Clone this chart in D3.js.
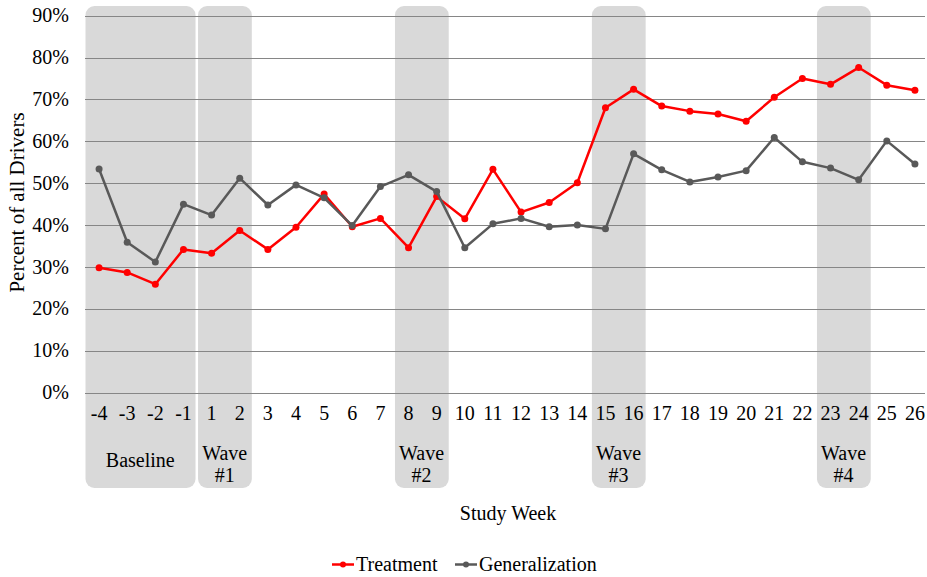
<!DOCTYPE html>
<html>
<head>
<meta charset="utf-8">
<script src="https://cdn.jsdelivr.net/npm/d3@7"></script>
<style>
  body { margin: 0; background: #fff; }
</style>
</head>
<body>
<div id="chart"></div>
<script>
var weeks = ["-4","-3","-2","-1","1","2","3","4","5","6","7","8","9","10","11","12","13",
             "14","15","16","17","18","19","20","21","22","23","24","25","26"];

var treatment = [29.8, 28.7, 25.9, 34.2, 33.3, 38.7, 34.2, 39.5, 47.4, 39.6, 41.6, 34.6, 46.8,
                 41.5, 53.3, 43.1, 45.4, 50.1, 68.0, 72.4, 68.4, 67.2, 66.5, 64.8, 70.5, 75.0,
                 73.6, 77.6, 73.4, 72.2];

var generalization = [53.4, 35.9, 31.2, 45.0, 42.4, 51.2, 44.8, 49.6, 46.5, 39.9, 49.2, 52.0, 48.0,
                      34.6, 40.3, 41.6, 39.6, 40.0, 39.1, 57.0, 53.2, 50.3, 51.5, 53.0, 60.9, 55.1,
                      53.6, 50.8, 60.1, 54.6];

var yTicks = [0, 10, 20, 30, 40, 50, 60, 70, 80, 90];

// shaded phases: first week, last week, label lines
var phaseStart = ["-4", "1", "8", "15", "23"];
var phaseEnd = ["-1", "2", "9", "16", "24"];
var phaseLabels = [["Baseline"], ["Wave", "#1"], ["Wave", "#2"], ["Wave", "#3"], ["Wave", "#4"]];

var seriesNames = ["Treatment", "Generalization"];
var seriesColors = ["#ff0000", "#595959"];

var width = 927, height = 577;
var plotLeft = 85, plotRight = 929, gridRight = 925, plotTop = 15.6, plotBottom = 392.7;

var svg = d3.select("#chart").append("svg")
    .attr("width", width)
    .attr("height", height)
    .style("font-family", "'Liberation Serif', 'Times New Roman', serif");

var x = d3.scaleBand().domain(weeks).range([plotLeft, plotRight]);
var y = d3.scaleLinear().domain([0, 90]).range([plotBottom, plotTop]);

// phase boxes
var phases = phaseStart.map(function(s, i) {
    return {start: s, end: phaseEnd[i], label: phaseLabels[i]};
});

var pg = svg.append("g").selectAll("g").data(phases).enter().append("g");

pg.append("rect")
    .attr("x", function(d) { return x(d.start) + 0.5; })
    .attr("width", function(d) { return x(d.end) + x.bandwidth() - x(d.start) - 2.5; })
    .attr("y", 6)
    .attr("height", 482)
    .attr("rx", 9)
    .style("fill", "#d9d9d9");

pg.each(function(d) {
    var cx = (x(d.start) + x(d.end) + x.bandwidth()) / 2 - 1;
    var lines = d.label;
    var y0 = lines.length == 1 ? 467 : 460;
    d3.select(this).selectAll("text.phase").data(lines).enter().append("text")
        .attr("class", "phase")
        .attr("x", cx)
        .attr("y", function(t, i) { return y0 + i * 22; })
        .attr("text-anchor", "middle")
        .style("font-size", "20px")
        .text(function(t) { return t; });
});

// grid lines
svg.append("g").selectAll("line").data(yTicks).enter().append("line")
    .attr("x1", plotLeft)
    .attr("x2", gridRight)
    .attr("y1", function(d) { return Math.round(y(d)) + 0.5; })
    .attr("y2", function(d) { return Math.round(y(d)) + 0.5; })
    .style("stroke", "#868686")
    .style("stroke-width", 1.2);

// y axis labels
svg.append("g").selectAll("text").data(yTicks).enter().append("text")
    .attr("x", 69)
    .attr("y", function(d) { return y(d) + 6.5; })
    .attr("text-anchor", "end")
    .style("font-size", "20px")
    .text(function(d) { return d + "%"; });

// x axis labels
svg.append("g").selectAll("text").data(weeks).enter().append("text")
    .attr("x", function(d) { return x(d) + x.bandwidth() / 2; })
    .attr("y", 420)
    .attr("text-anchor", "middle")
    .style("font-size", "20px")
    .text(function(d) { return d; });

svg.append("text")
    .attr("x", (plotLeft + gridRight) / 2 + 3)
    .attr("y", 520)
    .attr("text-anchor", "middle")
    .style("font-size", "20px")
    .text("Study Week");

svg.append("text")
    .attr("transform", "translate(24,202.5) rotate(-90)")
    .attr("text-anchor", "middle")
    .style("font-size", "21px")
    .text("Percent of all Drivers");

// lines
var line = d3.line()
    .x(function(d, i) { return x(weeks[i]) + x.bandwidth() / 2; })
    .y(function(d) { return y(d); });

var allSeries = [treatment, generalization];

allSeries.forEach(function(vals, k) {
    svg.append("path")
        .datum(vals)
        .attr("d", line)
        .style("fill", "none")
        .style("stroke", seriesColors[k])
        .style("stroke-width", 2.5)
        .style("stroke-linejoin", "round");

    svg.append("g").selectAll("circle").data(vals).enter().append("circle")
        .attr("cx", function(d, i) { return x(weeks[i]) + x.bandwidth() / 2; })
        .attr("cy", function(d) { return y(d); })
        .attr("r", 3.5)
        .style("fill", seriesColors[k]);
});

// legend
var legendX = [332, 455];
var lg = svg.append("g").selectAll("g").data(seriesNames).enter().append("g")
    .attr("transform", function(d, i) { return "translate(" + legendX[i] + ",564.5)"; });

lg.append("line")
    .attr("x1", 0).attr("x2", 22)
    .style("stroke", function(d, i) { return seriesColors[i]; })
    .style("stroke-width", 2.5);

lg.append("circle")
    .attr("cx", 11).attr("r", 3)
    .style("fill", function(d, i) { return seriesColors[i]; });

lg.append("text")
    .attr("x", 24)
    .attr("y", 6.5)
    .style("font-size", "20px")
    .text(function(d) { return d; });
</script>
</body>
</html>
